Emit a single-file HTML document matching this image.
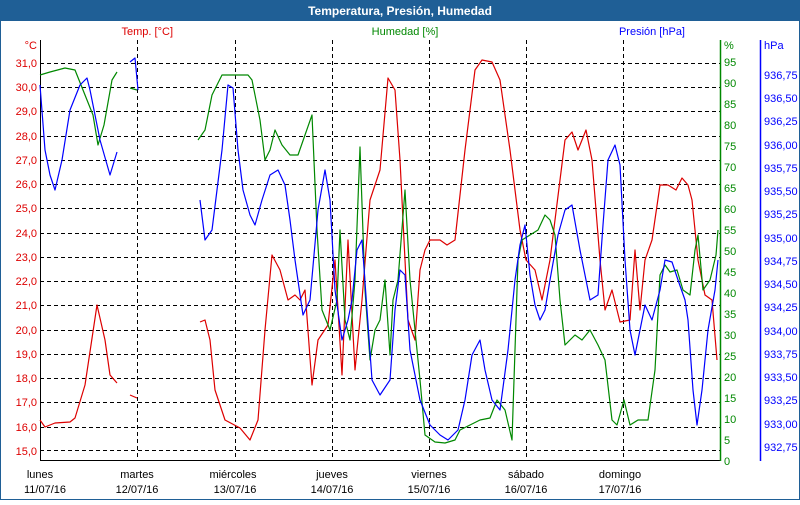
<!DOCTYPE html>
<html><head><meta charset="utf-8"><style>
body{margin:0;width:800px;height:500px;overflow:hidden;background:#fff;font-family:"Liberation Sans",sans-serif}
</style></head><body>
<svg width="800" height="500" xmlns="http://www.w3.org/2000/svg" font-family="Liberation Sans, sans-serif" font-size="11">
<rect x="0" y="0" width="800" height="500" fill="#fff" stroke="#1f5f96" stroke-width="2"/>
<rect x="0" y="0" width="800" height="21" fill="#1f5f96"/>
<text x="400" y="15" text-anchor="middle" fill="#fff" font-weight="bold" font-size="12">Temperatura, Presión, Humedad</text>
<g stroke="#000" stroke-dasharray="4,3" stroke-width="1">
<line x1="40" x2="720" y1="63.5" y2="63.5"/><line x1="40" x2="720" y1="87.5" y2="87.5"/><line x1="40" x2="720" y1="111.5" y2="111.5"/><line x1="40" x2="720" y1="136.5" y2="136.5"/><line x1="40" x2="720" y1="160.5" y2="160.5"/><line x1="40" x2="720" y1="184.5" y2="184.5"/><line x1="40" x2="720" y1="208.5" y2="208.5"/><line x1="40" x2="720" y1="233.5" y2="233.5"/><line x1="40" x2="720" y1="257.5" y2="257.5"/><line x1="40" x2="720" y1="281.5" y2="281.5"/><line x1="40" x2="720" y1="305.5" y2="305.5"/><line x1="40" x2="720" y1="330.5" y2="330.5"/><line x1="40" x2="720" y1="354.5" y2="354.5"/><line x1="40" x2="720" y1="378.5" y2="378.5"/><line x1="40" x2="720" y1="402.5" y2="402.5"/><line x1="40" x2="720" y1="427.5" y2="427.5"/><line x1="40" x2="720" y1="450.5" y2="450.5"/>
<line y1="40" y2="460" x1="137.5" x2="137.5"/><line y1="40" y2="460" x1="235.5" x2="235.5"/><line y1="40" y2="460" x1="332.5" x2="332.5"/><line y1="40" y2="460" x1="429.5" x2="429.5"/><line y1="40" y2="460" x1="526.5" x2="526.5"/><line y1="40" y2="460" x1="623.5" x2="623.5"/>
</g>
<line x1="40.5" y1="40" x2="40.5" y2="461" stroke="#000"/>
<line x1="40" y1="460.5" x2="721" y2="460.5" stroke="#000"/>
<line x1="720.5" y1="40" x2="720.5" y2="461" stroke="#080" stroke-width="1.5"/>
<line x1="760.5" y1="40" x2="760.5" y2="461" stroke="#00f" stroke-width="1.5"/>
<g fill="#d00" text-anchor="end">
<text x="37" y="49">°C</text>
<text x="37" y="67">31,0</text><text x="37" y="91">30,0</text><text x="37" y="115">29,0</text><text x="37" y="140">28,0</text><text x="37" y="164">27,0</text><text x="37" y="188">26,0</text><text x="37" y="212">25,0</text><text x="37" y="237">24,0</text><text x="37" y="261">23,0</text><text x="37" y="285">22,0</text><text x="37" y="309">21,0</text><text x="37" y="334">20,0</text><text x="37" y="358">19,0</text><text x="37" y="382">18,0</text><text x="37" y="406">17,0</text><text x="37" y="431">16,0</text><text x="37" y="455">15,0</text>
<text x="173" y="35">Temp. [°C]</text>
</g>
<g fill="#080">
<text x="724" y="49">%</text>
<text x="724" y="66">95</text><text x="724" y="87">90</text><text x="724" y="108">85</text><text x="724" y="129">80</text><text x="724" y="150">75</text><text x="724" y="171">70</text><text x="724" y="192">65</text><text x="724" y="213">60</text><text x="724" y="234">55</text><text x="724" y="255">50</text><text x="724" y="276">45</text><text x="724" y="297">40</text><text x="724" y="318">35</text><text x="724" y="339">30</text><text x="724" y="360">25</text><text x="724" y="381">20</text><text x="724" y="402">15</text><text x="724" y="423">10</text><text x="724" y="444">5</text><text x="724" y="465">0</text>
<text x="405" y="35" text-anchor="middle">Humedad [%]</text>
</g>
<g fill="#00f">
<text x="764" y="49">hPa</text>
<text x="764" y="79">936,75</text><text x="764" y="102">936,50</text><text x="764" y="125">936,25</text><text x="764" y="149">936,00</text><text x="764" y="172">935,75</text><text x="764" y="195">935,50</text><text x="764" y="218">935,25</text><text x="764" y="242">935,00</text><text x="764" y="265">934,75</text><text x="764" y="288">934,50</text><text x="764" y="311">934,25</text><text x="764" y="335">934,00</text><text x="764" y="358">933,75</text><text x="764" y="381">933,50</text><text x="764" y="404">933,25</text><text x="764" y="428">933,00</text><text x="764" y="451">932,75</text>
<text x="685" y="35" text-anchor="end">Presión [hPa]</text>
</g>
<g fill="#000" text-anchor="middle">
<text x="40" y="478">lunes</text><text x="45" y="493">11/07/16</text>
<text x="137" y="478">martes</text><text x="137" y="493">12/07/16</text>
<text x="233" y="478">miércoles</text><text x="235" y="493">13/07/16</text>
<text x="332" y="478">jueves</text><text x="332" y="493">14/07/16</text>
<text x="429" y="478">viernes</text><text x="429" y="493">15/07/16</text>
<text x="526" y="478">sábado</text><text x="526" y="493">16/07/16</text>
<text x="620" y="478">domingo</text><text x="620" y="493">17/07/16</text>
</g>
<g fill="none" stroke-width="1.2" stroke-linejoin="round">
<g stroke="#d00">
<polyline points="40,420 45,427 55,423 70,422 75,418 85,385 97,305 105,340 110,375 117,383"/>
<polyline points="130,395 137,398"/>
<polyline points="200,322 205,320 210,340 215,390 225,420 240,428 250,440 258,420 265,330 272,255 280,270 288,300 295,295 300,300 305,290 312,385 318,340 328,325 335,260 342,375 348,240 355,370 362,300 370,200 380,170 388,78 395,90 400,160 408,320 415,340 420,270 425,250 430,240 440,240 447,245 455,240 465,150 475,70 482,60 492,62 500,80 510,150 520,230 526,260 535,270 542,300 550,260 560,180 565,140 572,132 578,150 582,140 586,130 592,160 596,210 600,260 605,310 612,290 620,322 630,320 635,250 640,310 645,260 652,240 660,185 668,185 676,190 682,178 688,185 692,200 698,260 705,295 712,300 717,360"/>
</g>
<g stroke="#080">
<polyline points="40,75 50,72 65,68 75,70 85,95 93,115 98,145 104,125 112,80 117,72"/>
<polyline points="130,88 137,90"/>
<polyline points="198,140 205,130 212,95 222,75 248,75 252,80 260,120 265,160 270,150 275,130 282,145 290,155 298,155 305,135 312,115 317,230 322,310 330,330 337,300 340,230 345,320 350,340 355,280 360,147 365,290 370,360 375,330 380,320 385,280 390,355 393,300 398,280 405,190 410,280 415,330 420,380 425,435 435,442 445,443 455,440 460,430 470,425 480,420 490,418 497,400 505,410 512,440 518,260 522,240 530,235 538,230 545,215 550,220 555,235 560,300 565,345 575,335 582,340 590,330 598,345 605,360 612,420 617,425 624,400 630,425 638,420 648,420 655,370 660,275 665,265 670,272 677,270 683,290 690,295 695,250 698,235 703,290 710,280 716,255 718,230"/>
</g>
<g stroke="#00f">
<polyline points="40,85 45,150 50,175 55,190 62,160 70,110 80,85 87,78 90,90 100,140 110,175 117,152"/>
<polyline points="130,62 135,58 138,90"/>
<polyline points="200,200 205,240 212,230 222,150 228,85 233,88 238,150 243,190 250,215 255,225 262,200 270,175 278,170 285,185 290,220 295,260 303,315 310,300 318,210 325,170 330,200 335,290 342,340 348,320 352,300 357,250 362,240 367,310 372,380 380,395 390,380 395,310 400,270 405,275 410,350 420,400 430,425 440,435 448,440 458,430 465,400 472,355 480,340 485,370 492,400 500,410 508,350 515,280 520,245 525,225 530,275 535,305 540,320 545,310 550,280 558,235 565,210 572,205 580,250 590,300 598,295 603,225 608,160 615,145 620,165 625,260 630,330 635,355 640,330 645,305 652,320 660,290 665,260 672,262 678,280 685,300 688,320 693,390 697,425 702,390 708,330 715,290 718,260"/>
</g>
</g>
</svg>
</body></html>
